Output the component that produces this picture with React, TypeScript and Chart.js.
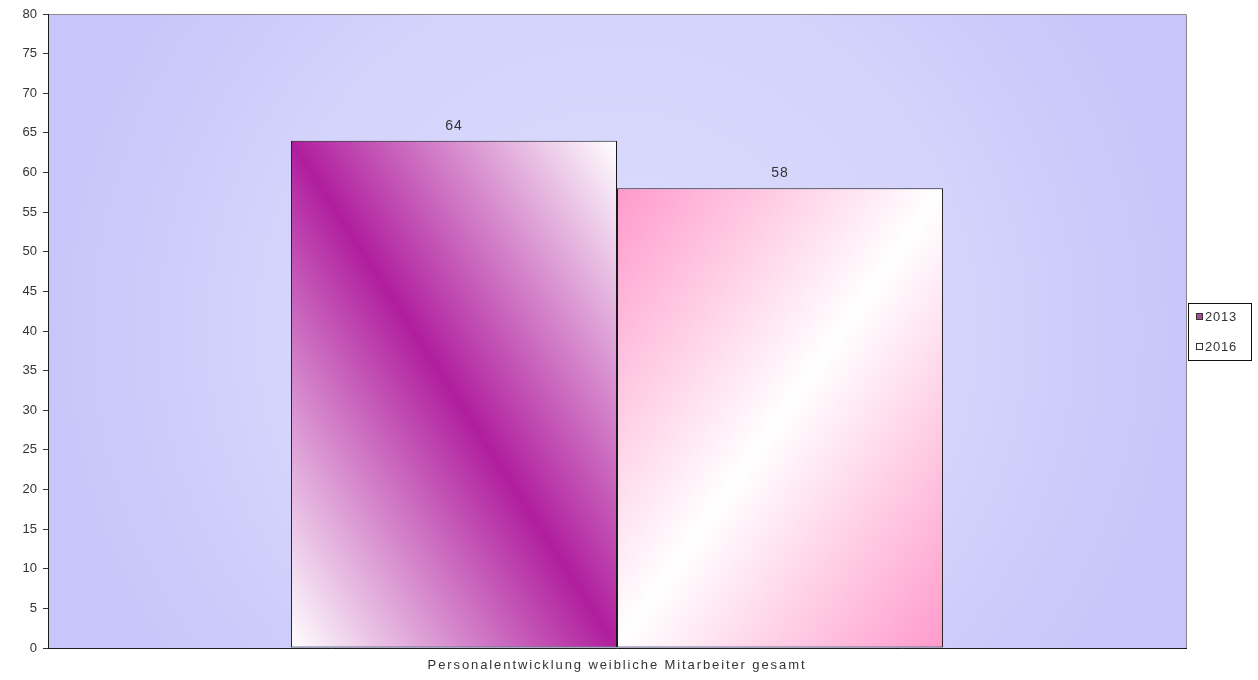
import React, { useEffect, useRef } from "react";
import { Chart, registerables } from "chart.js";

Chart.register(...registerables);

const categories = ["Personalentwicklung weibliche Mitarbeiter gesamt"];
const seriesLabels = ["2013", "2016"];
const values2013 = [64];
const values2016 = [58];
const Y_MIN = 0;
const Y_MAX = 80;
const Y_STEP = 5;

const FONT = "'Liberation Sans', Arial, sans-serif";
const PURPLE = "#b01e9e";
const PINK = "#ff9acb";

function diagGradient(ctx: CanvasRenderingContext2D, x0: number, y0: number, x1: number, y1: number, kind: number) {
  const w = x1 - x0;
  const h = y1 - y0;
  const L = Math.sqrt(w * w + h * h);
  const cx = (x0 + x1) / 2;
  const cy = (y0 + y1) / 2;
  const k = (w * h) / L;
  const dx = h / L;
  const dy = kind === 0 ? -w / L : w / L;
  const g = ctx.createLinearGradient(cx - dx * k, cy - dy * k, cx + dx * k, cy + dy * k);
  if (kind === 0) {
    g.addColorStop(0, "#ffffff");
    g.addColorStop(0.5, PURPLE);
    g.addColorStop(1, "#ffffff");
  } else {
    g.addColorStop(0, PINK);
    g.addColorStop(0.5, "#ffffff");
    g.addColorStop(1, PINK);
  }
  return g;
}

const customPlugin = {
  id: "custom",
  beforeDraw(chart: any) {
    const { ctx, chartArea: a } = chart;
    ctx.save();
    ctx.fillStyle = "#ffffff";
    ctx.fillRect(0, 0, chart.width, chart.height);
    const cx = (a.left + a.right) / 2;
    const cy = (a.top + a.bottom) / 2;
    const r = Math.max(a.right - a.left, a.bottom - a.top) / 2;
    const g = ctx.createRadialGradient(cx, cy, 0, cx, cy, r);
    g.addColorStop(0, "#dcdcfd");
    g.addColorStop(0.6, "#d4d4fc");
    g.addColorStop(1, "#c6c6fa");
    ctx.fillStyle = g;
    ctx.fillRect(a.left, a.top, a.right - a.left, a.bottom - a.top);
    ctx.strokeStyle = "#8a8a8a";
    ctx.lineWidth = 1;
    ctx.beginPath();
    ctx.moveTo(a.left, a.top + 0.5);
    ctx.lineTo(a.right + 0.5, a.top + 0.5);
    ctx.lineTo(a.right + 0.5, a.bottom);
    ctx.stroke();
    ctx.restore();
  },
  beforeDatasetsDraw(chart: any) {
    const ctx = chart.ctx;
    chart.data.datasets.forEach((ds: any, i: number) => {
      const meta = chart.getDatasetMeta(i);
      meta.data.forEach((el: any) => {
        const p = el.getProps(["x", "y", "base", "width"], true);
        const x0 = p.x - p.width / 2;
        const x1 = p.x + p.width / 2;
        el.options.backgroundColor = diagGradient(ctx, x0, p.y, x1, p.base, i);
      });
    });
  },
  afterDatasetsDraw(chart: any) {
    const ctx = chart.ctx;
    ctx.save();
    ctx.font = `14px ${FONT}`;
    ctx.fillStyle = "#333333";
    ctx.textAlign = "center";
    ctx.textBaseline = "bottom";
    (ctx as any).letterSpacing = "1px";
    chart.data.datasets.forEach((ds: any, i: number) => {
      const meta = chart.getDatasetMeta(i);
      meta.data.forEach((el: any, j: number) => {
        ctx.fillText(String(ds.data[j]), el.x, el.y - 8);
      });
    });
    ctx.restore();
  },
  afterDraw(chart: any) {
    const ctx = chart.ctx;
    const xs = chart.scales.x;
    ctx.save();
    // category label
    ctx.font = `13px ${FONT}`;
    (ctx as any).letterSpacing = "1.9px";
    ctx.fillStyle = "#333333";
    ctx.textAlign = "center";
    ctx.textBaseline = "middle";
    chart.data.labels.forEach((lab: string, i: number) => {
      ctx.fillText(lab, xs.getPixelForTick(i), 665);
    });
    // legend
    const bx = 1188.5;
    const by = 303.5;
    const bw = 63;
    const bh = 57;
    (ctx as any).letterSpacing = "0.8px";
    ctx.fillStyle = "#ffffff";
    ctx.fillRect(bx, by, bw, bh);
    ctx.strokeStyle = "#111111";
    ctx.lineWidth = 1;
    ctx.strokeRect(bx, by, bw, bh);
    ctx.font = `13px ${FONT}`;
    ctx.textBaseline = "middle";
    ctx.textAlign = "left";
    chart.data.datasets.forEach((ds: any, i: number) => {
      const yc = 317 + i * 30;
      ctx.fillStyle = i === 0 ? "#a84a98" : "#ffffff";
      ctx.fillRect(1196.5, yc - 3.5, 6, 6);
      ctx.strokeStyle = "#333333";
      ctx.strokeRect(1196.5, yc - 3.5, 6, 6);
      ctx.fillStyle = "#333333";
      ctx.fillText(ds.label, 1205, yc + 0.5);
    });
    ctx.restore();
  },
};

export default function App() {
  const ref = useRef<HTMLCanvasElement | null>(null);
  useEffect(() => {
    if (!ref.current) return;
    const chart = new Chart(ref.current, {
      type: "bar",
      data: {
        labels: categories,
        datasets: [
          {
            label: seriesLabels[0],
            data: values2013,
            backgroundColor: PURPLE,
            borderColor: "#1a1a1a",
            borderWidth: 1,
            borderSkipped: false,
          },
          {
            label: seriesLabels[1],
            data: values2016,
            backgroundColor: PINK,
            borderColor: "#1a1a1a",
            borderWidth: 1,
            borderSkipped: false,
          },
        ],
      },
      options: {
        responsive: true,
        maintainAspectRatio: false,
        animation: false,
        layout: { padding: { top: 14, right: 72, left: 0, bottom: 0 } },
        datasets: { bar: { categoryPercentage: 0.573, barPercentage: 1 } },
        plugins: {
          legend: { display: false },
          tooltip: { enabled: false },
        },
        scales: {
          x: {
            grid: { display: false },
            border: { display: true, color: "#1a1a1a", width: 1 },
            ticks: { display: false },
            afterFit: (s: any) => { s.height = 32; },
          },
          y: {
            min: Y_MIN,
            max: Y_MAX,
            grid: { display: true, drawOnChartArea: false, tickLength: 5, color: "#333333" },
            border: { display: true, color: "#1a1a1a", width: 1 },
            ticks: { stepSize: Y_STEP, color: "#333333", font: { family: FONT, size: 13 }, padding: 6 },
            afterFit: (s: any) => { s.width = 48; },
          },
        },
      },
      plugins: [customPlugin],
    });
    return () => chart.destroy();
  }, []);
  return (
    <div style={{ position: "fixed", left: 0, top: 0, width: 1258, height: 680, background: "#fff" }}>
      <canvas ref={ref} />
    </div>
  );
}
